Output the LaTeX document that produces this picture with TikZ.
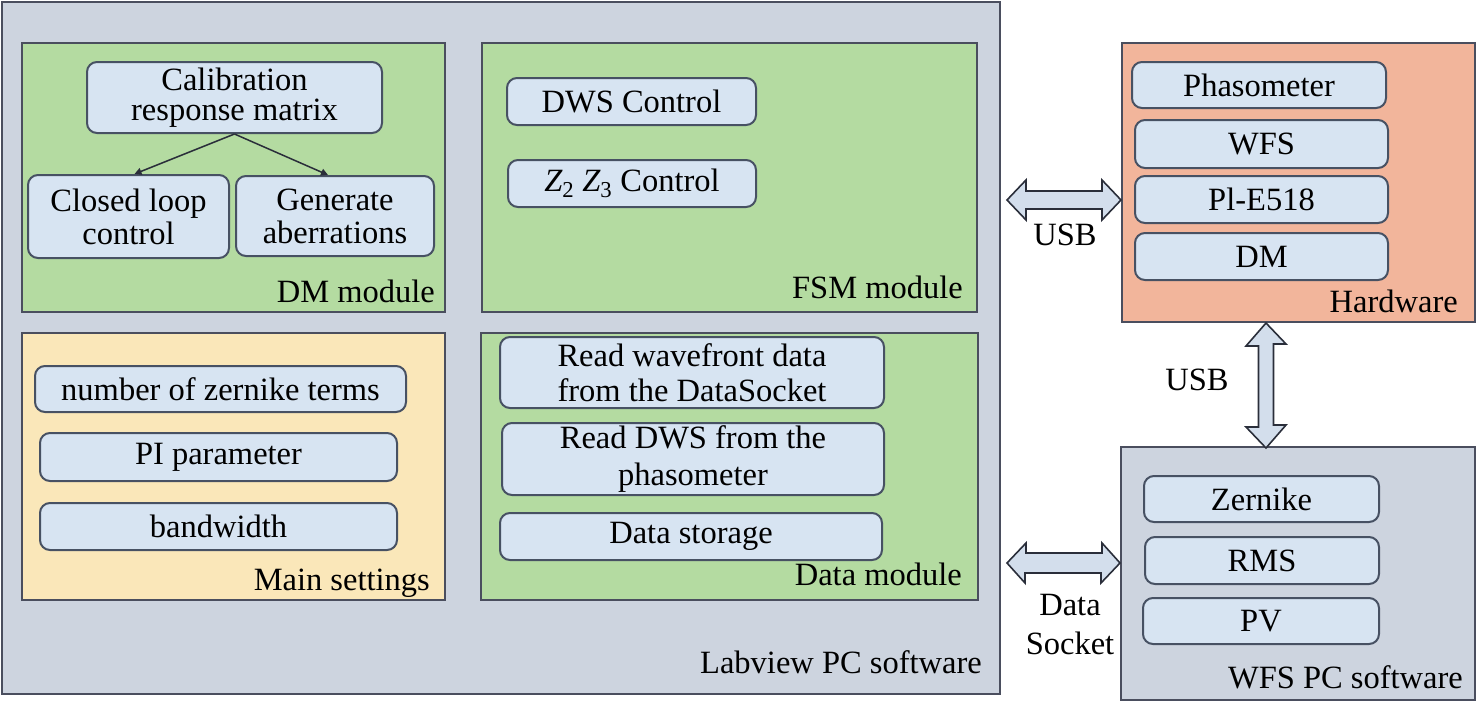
\documentclass[tikz,border=0pt]{standalone}
\usepackage{fontspec}
\setmainfont{Liberation Serif}
\usetikzlibrary{fit,arrows.meta}
\definecolor{lvbg}{HTML}{CDD4DF}
\definecolor{contline}{HTML}{4A4E5E}
\definecolor{modgreen}{HTML}{B4DBA1}
\definecolor{setyellow}{HTML}{FAE7B9}
\definecolor{hwsalmon}{HTML}{F2B59B}
\definecolor{boxfill}{HTML}{D7E4F2}
\definecolor{boxline}{HTML}{475163}
\definecolor{arrfill}{HTML}{D3DEEC}
\definecolor{arrline}{HTML}{2A2E3A}
\begin{document}
\begin{tikzpicture}[x=1pt,y=-1pt,
  every node/.style={font=\fontsize{32.5}{35}\selectfont},
  cont/.style={draw=contline, line width=2pt, inner sep=0pt},
  ibox/.style={draw=boxline, fill=boxfill, line width=2pt, rounded corners=10pt, align=center, inner sep=0pt},
  lab/.style={anchor=base east, inner sep=0pt},
  conn/.style={draw=arrline, line width=1.5pt, -{Triangle[length=7pt,width=7pt]}},
  bigarrow/.style={draw=arrline, fill=arrfill, line width=1.6pt, line join=miter}]
\useasboundingbox (0,0) rectangle (1476,707);

% containers
\node[cont, fill=lvbg, fit={(2,2)(1000,694)}] (labview) {};
\node[cont, fill=modgreen, fit={(22,43)(445,312)}] (dmmod) {};
\node[cont, fill=modgreen, fit={(482,43)(977,312)}] (fsmmod) {};
\node[cont, fill=setyellow, fit={(22,333)(445,600)}] (mainset) {};
\node[cont, fill=modgreen, fit={(481,333)(978,600)}] (datamod) {};
\node[cont, fill=hwsalmon, fit={(1122,43)(1475,322)}] (hw) {};
\node[cont, fill=lvbg, fit={(1121,447)(1475,700)}] (wfspc) {};

% container labels
\node[lab] (ldm) at (435,302) {DM module};
\node[lab] (lfsm) at (963,298) {FSM module};
\node[lab] (lmain) at (430,590) {Main settings};
\node[lab] (ldata) at (962,585) {Data module};
\node[lab] (llv) at (982,673) {Labview PC software};
\node[lab] (lhw) at (1458,312) {Hardware};
\node[lab] (lwfs) at (1463,688) {WFS PC software};

% DM module
\node[ibox, minimum width=295pt, minimum height=71pt] (cal) at (234.5,97.5) {Calibration\\[-5pt]response matrix};
\node[ibox, minimum width=201pt, minimum height=83pt] (closed) at (128.5,216.5) {Closed loop\\[-2pt]control};
\node[ibox, minimum width=198pt, minimum height=80pt] (gen) at (335,216) {Generate\\[-2pt]aberrations};
\draw[conn] (cal.south) -- ([xshift=6pt]closed.north);
\draw[conn] (cal.south) -- ([xshift=-7pt]gen.north);

% FSM module
\node[ibox, minimum width=249pt, minimum height=47pt] (dws) at (631.5,101.5) {DWS Control};
\node[ibox, minimum width=248pt, minimum height=47pt] (z23) at (632,183.5) {{\itshape Z}\textsubscript{2} {\itshape Z}\textsubscript{3} Control};

% Main settings
\node[ibox, minimum width=371pt, minimum height=46pt] (nzt) at (220.5,389) {number of zernike terms};
\node[ibox, minimum width=357pt, minimum height=48pt] (pip) at (218.5,457) {PI parameter};
\node[ibox, minimum width=357pt, minimum height=47pt] (bw) at (218.5,526.5) {bandwidth};

% Data module
\node[ibox, minimum width=384pt, minimum height=71pt] (rw) at (692,372.5) {Read wavefront data\\from the DataSocket};
\node[ibox, minimum width=382pt, minimum height=72pt] (rd) at (693,459) {Read DWS from the\\[2pt]phasometer};
\node[ibox, minimum width=382pt, minimum height=47pt] (ds) at (691,536.5) {Data storage};

% Hardware
\node[ibox, minimum width=254pt, minimum height=46pt] (ph) at (1259,85) {Phasometer};
\node[ibox, minimum width=253pt, minimum height=48pt] (wfs) at (1261.5,144) {WFS};
\node[ibox, minimum width=253pt, minimum height=47pt] (pie) at (1261.5,199.5) {Pl-E518};
\node[ibox, minimum width=253pt, minimum height=47pt] (dmh) at (1261.5,256.5) {DM};

% WFS PC software
\node[ibox, minimum width=235pt, minimum height=46pt] (zer) at (1261.5,499) {Zernike};
\node[ibox, minimum width=234pt, minimum height=47pt] (rms) at (1262,560.5) {RMS};
\node[ibox, minimum width=236pt, minimum height=46pt] (pv) at (1261,621) {PV};

% big double arrows
\coordinate (u1l) at ([xshift=6pt]labview.east |- 0,200);
\coordinate (u1r) at (hw.west |- 0,200);
\draw[bigarrow] (u1l) -- ++(19,-20) -- ++(0,11) -- ++(76,0) -- ++(0,-11) -- (u1r)
  -- ++(-19,20) -- ++(0,-11) -- ++(-76,0) -- ++(0,11) -- cycle;
\node[anchor=base, inner sep=0pt] (lusb1) at (1065,245) {USB};

\coordinate (dsl) at ([xshift=6pt]labview.east |- 0,563);
\coordinate (dsr) at (wfspc.west |- 0,563);
\draw[bigarrow] (dsl) -- ++(19,-20) -- ++(0,10) -- ++(76,0) -- ++(0,-10) -- (dsr)
  -- ++(-19,20) -- ++(0,-10) -- ++(-76,0) -- ++(0,10) -- cycle;
\node[align=center, inner sep=0pt] (lds) at (1070,625) {Data\\[4pt]Socket};

\coordinate (u2t) at (hw.south -| 1266,0);
\coordinate (u2b) at ([yshift=-2pt]wfspc.north -| 1266,0);
\draw[bigarrow] (u2t) -- ++(20,21) -- ++(-12.5,0) -- ++(0,81) -- ++(12.5,0) -- (u2b)
  -- ++(-20,-21) -- ++(12.5,0) -- ++(0,-81) -- ++(-12.5,0) -- cycle;
\node[anchor=base, inner sep=0pt] (lusb2) at (1197,390) {USB};
\end{tikzpicture}
\end{document}
